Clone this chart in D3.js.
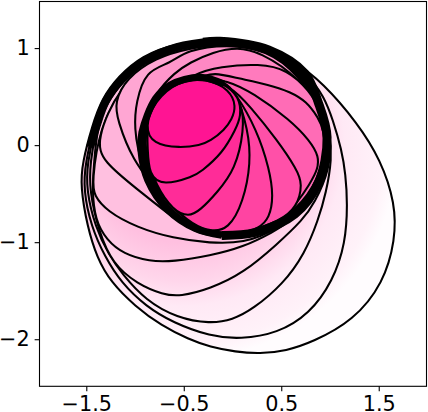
<!DOCTYPE html>
<html><head><meta charset="utf-8">
<script src="https://cdn.jsdelivr.net/npm/d3@7/dist/d3.min.js"></script>
<style>html,body{margin:0;padding:0;background:#fff}svg{display:block}</style></head>
<body><svg id="c" width="428" height="412"></svg>
<script>
const xTicks=[-1.5,-0.5,0.5,1.5];
const yTicks=[-2,-1,0,1];
const xDomain=[-1.98,1.99];
const yDomain=[-2.485,1.48];
const c1=[[-0.26,0.69],[-0.57,0.66],[-0.80,0.45],[-0.90,0.19],[-0.82,0.01],[-0.54,-0.03],[-0.33,0.0],[-0.23,0.04],[-0.08,0.16],[-0.01,0.26],[0.04,0.40],[-0.03,0.57]];
const c2=[[-0.30,0.69],[-0.61,0.62],[-0.81,0.40],[-0.88,0.15],[-0.87,-0.01],[-0.86,-0.31],[-0.71,-0.42],[-0.40,-0.32],[-0.33,-0.28],[-0.1,-0.08],[0.03,0.16],[0.09,0.30],[0.07,0.50],[-0.09,0.64]];
const c3=[[-0.30,0.69],[-0.61,0.62],[-0.81,0.40],[-0.89,0.15],[-0.90,-0.08],[-0.78,-0.43],[-0.61,-0.67],[-0.45,-0.74],[-0.33,-0.67],[-0.16,-0.49],[0.03,-0.25],[0.12,0.16],[0.10,0.43],[-0.06,0.64]];
const c4=[[-0.30,0.69],[-0.61,0.62],[-0.81,0.40],[-0.90,0.15],[-0.90,-0.15],[-0.64,-0.63],[-0.40,-0.82],[-0.23,-0.89],[-0.04,-0.87],[0.11,-0.59],[0.19,-0.18],[0.16,0.16],[0.04,0.54],[-0.09,0.66]];
const c5=[[-0.30,0.69],[-0.61,0.62],[-0.81,0.40],[-0.90,0.15],[-0.91,-0.2],[-0.64,-0.68],[-0.23,-0.91],[0.08,-0.91],[0.27,-0.86],[0.38,-0.75],[0.42,-0.53],[0.38,-0.25],[0.25,0.16],[0.03,0.54],[-0.1,0.67]];
const c6=[[-0.30,0.69],[-0.61,0.62],[-0.81,0.40],[-0.90,0.15],[-0.91,-0.2],[-0.66,-0.7],[-0.23,-0.92],[0.15,-0.90],[0.49,-0.78],[0.66,-0.64],[0.72,-0.40],[0.66,-0.25],[0.46,0.05],[0.18,0.40],[-0.03,0.62]];
const c7=[[-0.30,0.69],[-0.61,0.62],[-0.81,0.40],[-0.90,0.15],[-0.92,-0.2],[-0.66,-0.72],[-0.23,-0.93],[0.15,-0.90],[0.55,-0.77],[0.82,-0.36],[0.87,-0.25],[0.89,-0.12],[0.79,0.05],[0.59,0.26],[0.21,0.54],[-0.06,0.67]];
const c8=[[-0.30,0.70],[-0.61,0.62],[-0.81,0.40],[-0.90,0.15],[-0.92,-0.2],[-0.66,-0.74],[-0.23,-0.93],[0.15,-0.90],[0.49,-0.79],[0.79,-0.53],[0.95,-0.15],[0.94,0.16],[0.88,0.28],[0.76,0.45],[0.59,0.55],[0.38,0.62],[0.05,0.69],[-0.2,0.75]];
const c9=[[-0.40,0.74],[-0.72,0.5],[-0.9,0.15],[-0.93,-0.2],[-0.66,-0.76],[-0.23,-0.93],[0.15,-0.91],[0.49,-0.79],[0.79,-0.52],[0.95,-0.15],[0.97,0.09],[0.90,0.36],[0.79,0.56],[0.56,0.78],[0.28,0.84],[-0.13,0.81]];
const c10=[[-0.59,0.75],[-0.79,0.54],[-0.95,0.19],[-0.93,-0.2],[-0.66,-0.76],[-0.23,-0.93],[0.15,-0.91],[0.5,-0.79],[0.8,-0.52],[0.96,-0.15],[0.96,0.26],[0.69,0.70],[0.28,0.96],[0.05,1.01],[-0.2,0.96],[-0.44,0.85]];
const c11=[[-0.06,1.04],[-0.47,0.98],[-0.64,0.84],[-0.89,0.77],[-0.99,0.44],[-1.01,0.19],[-0.95,-0.2],[-0.66,-0.76],[-0.23,-0.94],[0.15,-0.92],[0.52,-0.8],[0.82,-0.52],[0.97,-0.1],[0.95,0.27],[0.68,0.73],[0.35,0.98]];
const c12=[[-0.05,1.05],[-0.45,1.0],[-0.79,0.90],[-1.09,0.69],[-1.21,0.44],[-1.18,0.26],[-1.03,-0.15],[-0.76,-0.49],[-0.6,-0.76],[-0.23,-0.95],[0.15,-0.93],[0.52,-0.8],[0.82,-0.52],[0.97,-0.1],[0.95,0.27],[0.68,0.73],[0.35,0.98]];
const c13=[[-0.05,1.06],[-0.45,1.02],[-0.74,0.95],[-1.17,0.60],[-1.40,0.05],[-1.33,-0.17],[-0.97,-0.46],[-0.62,-0.74],[-0.35,-0.93],[0.05,-0.96],[0.52,-0.81],[0.82,-0.53],[0.97,-0.1],[0.95,0.27],[0.68,0.73],[0.35,0.98]];
const c14=[[-0.05,1.07],[-0.57,1.0],[-1.11,0.66],[-1.37,0.17],[-1.44,-0.39],[-1.42,-0.52],[-1.29,-0.68],[-0.98,-0.85],[-0.61,-0.96],[-0.23,-1.01],[0.11,-1.01],[0.46,-0.88],[0.82,-0.53],[0.98,-0.1],[0.93,0.36],[0.70,0.72],[0.36,0.98]];
const c15=[[-0.10,1.07],[-0.57,1.01],[-0.88,0.88],[-1.12,0.67],[-1.29,0.44],[-1.39,0.17],[-1.42,-0.18],[-1.44,-0.46],[-1.41,-0.77],[-1.29,-0.98],[-1.12,-1.12],[-0.85,-1.20],[-0.61,-1.20],[-0.23,-1.14],[0.11,-1.05],[0.41,-0.90],[0.62,-0.77],[0.85,-0.5],[0.99,-0.15],[1.0,0.1],[0.91,0.41],[0.70,0.73],[0.36,1.0]];
const c16=[[-0.12,1.07],[-0.57,1.02],[-0.89,0.89],[-1.13,0.68],[-1.30,0.45],[-1.40,0.18],[-1.46,-0.18],[-1.47,-0.46],[-1.37,-0.90],[-1.23,-1.22],[-0.98,-1.43],[-0.71,-1.54],[-0.54,-1.56],[-0.23,-1.48],[0.11,-1.32],[0.46,-1.02],[0.72,-0.77],[0.84,-0.60],[1.0,-0.25],[1.01,0.1],[0.91,0.42],[0.71,0.73],[0.36,1.0]];
const c17=[[-0.13,1.08],[-0.57,1.03],[-0.90,0.90],[-1.14,0.69],[-1.31,0.46],[-1.41,0.18],[-1.49,-0.18],[-1.50,-0.46],[-1.41,-0.84],[-1.27,-1.13],[-1.13,-1.33],[-0.89,-1.60],[-0.57,-1.78],[-0.23,-1.84],[0.0,-1.80],[0.21,-1.69],[0.52,-1.43],[0.74,-1.12],[0.88,-0.77],[0.96,-0.49],[1.02,-0.15],[1.0,0.15],[0.92,0.42],[0.72,0.73],[0.36,1.0]];
const c18=[[-0.14,1.08],[-0.58,1.04],[-0.91,0.91],[-1.15,0.70],[-1.32,0.47],[-1.42,0.19],[-1.51,-0.18],[-1.53,-0.46],[-1.45,-0.84],[-1.31,-1.15],[-1.14,-1.42],[-0.89,-1.66],[-0.61,-1.83],[-0.23,-1.97],[0.08,-2.0],[0.46,-1.94],[0.79,-1.74],[1.03,-1.40],[1.16,-1.01],[1.18,-0.60],[1.16,-0.3],[1.12,-0.05],[1.03,0.26],[0.94,0.50],[0.78,0.72],[0.40,1.0]];
const c19=[[-0.15,1.09],[-0.59,1.05],[-0.93,0.92],[-1.17,0.71],[-1.34,0.48],[-1.44,0.20],[-1.54,-0.18],[-1.56,-0.42],[-1.49,-0.84],[-1.39,-1.16],[-1.25,-1.41],[-1.0,-1.66],[-0.73,-1.86],[-0.45,-2.0],[-0.23,-2.08],[0.03,-2.13],[0.28,-2.15],[0.55,-2.12],[0.82,-2.03],[1.24,-1.81],[1.55,-1.42],[1.67,-0.98],[1.67,-0.60],[1.52,-0.15],[1.28,0.23],[0.93,0.64],[0.62,0.88],[0.28,1.05]];
const leftBand=[[-1.46,-0.02],[-1.40,0.18],[-1.30,0.45],[-1.14,0.67],[-0.90,0.87],[-0.57,1.01],[-0.18,1.07]];
const bigRing=[[-0.3,1.06],[-0.13,1.07],[0.37,0.98],[0.74,0.74],[0.88,0.44],[0.97,0.08],[0.88,-0.39],[0.64,-0.71],[0.23,-0.90],[-0.11,-0.93]];
const innerRing=[[-0.11,-0.93],[-0.38,-0.86],[-0.67,-0.66],[-0.87,-0.36],[-0.94,-0.05],[-0.93,0.13],[-0.79,0.48],[-0.64,0.62],[-0.33,0.70],[-0.09,0.63]];
const curves=[c19,c18,c17,c16,c15,c14,c13,c12,c11,c10,c9,c8,c7,c6,c5,c4,c3,c2,c1];
const fills=["url(#g)","url(#g)","url(#g)","url(#g)","url(#g)","url(#g)","#ffb4da","#ffa6d3","#ff96cb","#ff88c4","#ff7abd","#ff6cb6","#ff5eaf","#ff50a8","#ff44a2","#ff389c","#ff2c98","#ff2095","#ff1493"];
const gradOffsets=[0.455,0.636,0.75,0.93,1];
const gradStops=["#ffc0e0","#ffd6eb","#ffe9f5","#fff2f9","#fffcfe"];

const W=428,H=412,L=39.5,R=426.5,T=1.5,B=386.3;
const x=d3.scaleLinear().domain(xDomain).range([L,R]);
const y=d3.scaleLinear().domain(yDomain).range([B,T]);
const svg=d3.select("#c");
const g=svg.append("defs").append("radialGradient").attr("id","g").attr("gradientUnits","userSpaceOnUse")
  .attr("cx",x(-0.5)).attr("cy",y(0)).attr("r",x(1.7)-x(-0.5));
gradStops.forEach((s,i)=>g.append("stop").attr("offset",gradOffsets[i]).attr("stop-color",s));
const closed=d3.line().x(d=>x(d[0])).y(d=>y(d[1])).curve(d3.curveBasisClosed);
const open=d3.line().x(d=>x(d[0])).y(d=>y(d[1])).curve(d3.curveCatmullRom.alpha(0.5));
svg.append("g").selectAll("path").data(curves).join("path")
  .attr("d",closed).attr("fill",(d,i)=>fills[i]).attr("stroke","#000").attr("stroke-width",2.08);
[[leftBand,8],[bigRing,9],[innerRing,7]].forEach(([pts,w])=>
  svg.append("path").attr("d",open(pts)).attr("fill","none").attr("stroke","#000").attr("stroke-width",w));

svg.append("rect").attr("x",L).attr("y",T).attr("width",R-L).attr("height",B-T).attr("fill","none").attr("stroke","#000").attr("stroke-width",1.1);
const fmt=d=>String(d).replace("-","\u2212");
const gx=svg.append("g").attr("transform",`translate(0,${B})`).call(d3.axisBottom(x).tickValues(xTicks).tickFormat(fmt).tickSize(4.86).tickPadding(4.86));
const gy=svg.append("g").attr("transform",`translate(${L},0)`).call(d3.axisLeft(y).tickValues(yTicks).tickFormat(fmt).tickSize(4.86).tickPadding(4.86));
[gx,gy].forEach(g=>{g.select(".domain").remove();
  g.selectAll("line").attr("stroke","#000").attr("stroke-width",1.1);
  g.selectAll("text").attr("fill","#000").style("font-family","'DejaVu Sans'").style("font-size","20.8px");});
</script></body></html>
